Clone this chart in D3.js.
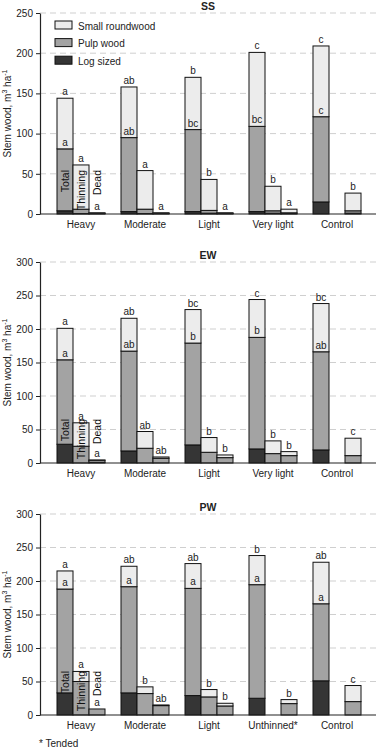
<!DOCTYPE html>
<html><head><meta charset="utf-8">
<script src="https://cdn.jsdelivr.net/npm/d3@7"></script>
<style>
body{margin:0;background:#fff;}
svg{display:block;font-family:"Liberation Sans",Arial,sans-serif;}
</style></head>
<body><svg id="c" width="380" height="750"></svg>
<script>
// ---------- data ----------
const barTypes = ["Total", "Thinning", "Dead"];
const seriesNames = ["Small roundwood", "Pulp wood", "Log sized"];
const catsSS = ["Heavy", "Moderate", "Light", "Very light", "Control"];
const catsEW = ["Heavy", "Moderate", "Light", "Very light", "Control"];
const catsPW = ["Heavy", "Moderate", "Light", "Unthinned*", "Control"];
const ticksSS = [0, 50, 100, 150, 200, 250];
const ticksEW = [0, 50, 100, 150, 200, 250, 300];
const ticksPW = [0, 50, 100, 150, 200, 250, 300];

// order: per category, Total, Thinning, Dead (null = no bar)
const ssLog   = [4, 0.5, 0.5,   3, 0.5, 0.5,   3, 1, 0.5,     3, 1, 0.5,     15, null, 1];
const ssPulp  = [77, 5.5, 0.5,  92, 5.5, 0.5,  102, 3.5, 0.5, 106, 3, 1,     106, null, 3];
const ssSmall = [63, 55, 0.5,   63, 48, 0.5,   65, 38.5, 0.5, 92, 30.5, 4.5, 88, null, 22];
const ssTop   = ["a","a","a", "ab","a","a", "b","b","a", "c","b","a", "c",null,"b"];
const ssPulpL = ["a", "ab", "bc", "bc", "c"];

const ewLog   = [28, 0, 1,      18, 0, 0,      27, 0, 0,      21, 0, 0,        19.5, null, 0];
const ewPulp  = [126, 25, 3,    149, 22, 7,    152, 16, 8,    166.5, 14, 11,   146.5, null, 11];
const ewSmall = [47, 35, 0.5,   49, 25, 2,     50, 22, 4,     56.5, 19, 6,     72, null, 26];
const ewTop   = ["a","a","a", "ab","ab","ab", "bc","b","b", "c","b","b", "bc",null,"c"];
const ewPulpL = ["a", "ab", "b", "b", "ab"];

const pwLog   = [33, 0, 0,      33, 0, 0,       29, 0, 0,      25, null, 0,     51, null, 0];
const pwPulp  = [155, 50, 9,    158.5, 32, 14,  160, 27, 13.5, 169.5, null, 17, 115, null, 20];
const pwSmall = [27, 15, 0,     30.5, 10, 1,    37, 11, 4,     43.5, null, 6,   62, null, 24];
const pwTop   = ["a","a","a", "ab","b","ab", "ab","b","b", "b",null,"b", "ab",null,"c"];
const pwPulpL = ["a", "a", "a", "a", "a"];

const panels = [
  {title:"SS", cats:catsSS, ticks:ticksSS, log:ssLog, pulp:ssPulp, small:ssSmall, top:ssTop, pl:ssPulpL, max:250, y0:214, y1:13, legend:true},
  {title:"EW", cats:catsEW, ticks:ticksEW, log:ewLog, pulp:ewPulp, small:ewSmall, top:ewTop, pl:ewPulpL, max:300, y0:463, y1:262},
  {title:"PW", cats:catsPW, ticks:ticksPW, log:pwLog, pulp:pwPulp, small:pwSmall, top:pwTop, pl:pwPulpL, max:300, y0:715, y1:514}
];

const colors = {small:"#ececec", pulp:"#a3a3a3", log:"#353535"};
const svg = d3.select("#c");
const axisX = 40, rightX = 376;

panels.forEach(p => {
  const g = svg.append("g");
  const y = d3.scaleLinear().domain([0, p.max]).range([p.y0, p.y1]);
  const x = d3.scaleBand().domain(p.cats).range([49, 369]);
  const xi = d3.scaleBand().domain(barTypes).range([0, x.bandwidth()]).paddingOuter(0.5);

  // grid
  g.selectAll("line.grid").data(p.ticks.filter(t => t > 0)).join("line")
    .attr("x1", axisX).attr("x2", rightX)
    .attr("y1", d => y(d)).attr("y2", d => y(d))
    .attr("stroke", "#cfcfcf").attr("stroke-width", 1).attr("stroke-dasharray", "6,4");

  // records
  const recs = [];
  p.cats.forEach((c, ci) => barTypes.forEach((b, bi) => {
    const k = ci * 3 + bi;
    if (p.log[k] === null) return;
    recs.push({cat:c, type:b, log:p.log[k], pulp:p.pulp[k], small:p.small[k], top:p.top[k], ci:ci});
  }));
  const stack = d3.stack().keys(["log", "pulp", "small"])(recs);
  stack.forEach(layer => {
    g.append("g").selectAll("rect").data(layer.filter(d => d[1] - d[0] > 0)).join("rect")
      .attr("x", d => x(d.data.cat) + xi(d.data.type))
      .attr("width", xi.bandwidth())
      .attr("y", d => y(d[1]))
      .attr("height", d => y(d[0]) - y(d[1]))
      .attr("fill", colors[layer.key])
      .attr("stroke", "#111").attr("stroke-width", 1);
  });

  // letters on top
  g.selectAll("text.top").data(recs.filter(r => r.top)).join("text")
    .attr("x", d => x(d.cat) + xi(d.type) + xi.bandwidth() / 2)
    .attr("y", d => y(d.log + d.pulp + d.small) - 3)
    .attr("text-anchor", "middle").attr("font-size", 10).attr("fill", "#222")
    .text(d => d.top);
  // letters at pulp top of Total bars
  g.selectAll("text.pl").data(recs.filter(r => r.type === "Total")).join("text")
    .attr("x", d => x(d.cat) + xi(d.type) + xi.bandwidth() / 2)
    .attr("y", d => y(d.log + d.pulp) - 3)
    .attr("text-anchor", "middle").attr("font-size", 10).attr("fill", "#222")
    .text(d => p.pl[d.ci]);

  // rotated bar-type labels in first group
  barTypes.forEach(b => {
    const cx = x(p.cats[0]) + xi(b) + xi.bandwidth() / 2 + 4;
    const ty = y(0) - 44;
    g.append("text").attr("transform", `translate(${cx},${ty}) rotate(-90)`)
      .attr("text-anchor", "end").attr("font-size", 10.5).attr("fill", "#111").text(b);
  });

  // axes
  const ya = d3.axisLeft(y).tickValues(p.ticks).tickSize(4).tickPadding(3).tickSizeOuter(0);
  const yg = g.append("g").attr("transform", `translate(${axisX},0)`).call(ya);
  yg.select(".domain").attr("stroke", "#222").attr("stroke-width", 1.2);
  yg.selectAll(".tick line").attr("stroke", "#222");
  yg.selectAll(".tick text").attr("font-size", 10).attr("fill", "#222").attr("font-family", "Liberation Sans, Arial, sans-serif");
  g.append("line").attr("x1", axisX).attr("x2", rightX).attr("y1", y(0)).attr("y2", y(0))
    .attr("stroke", "#222").attr("stroke-width", 1.2);

  // category labels (centered on middle bar)
  g.selectAll("text.cat").data(p.cats).join("text")
    .attr("x", d => x(d) + x.bandwidth() / 2)
    .attr("y", y(0) + 14)
    .attr("text-anchor", "middle").attr("font-size", 10).attr("fill", "#222")
    .text(d => d);

  // title
  g.append("text").attr("x", (axisX + rightX) / 2).attr("y", p.y1 - 3.5)
    .attr("text-anchor", "middle").attr("font-size", 10.5).attr("font-weight", "bold").attr("fill", "#222")
    .text(p.title);

  // y-axis title
  const yt = g.append("text")
    .attr("transform", `translate(11,${(p.y0 + p.y1) / 2}) rotate(-90)`)
    .attr("text-anchor", "middle").attr("font-size", 10).attr("fill", "#222");
  yt.append("tspan").text("Stem wood, m");
  yt.append("tspan").attr("dy", -4).attr("font-size", 7).text("3");
  yt.append("tspan").attr("dy", 4).text(" ha");
  yt.append("tspan").attr("dy", -4).attr("font-size", 7).text("-1");

  if (p.legend) {
    const keys = ["small", "pulp", "log"];
    const lg = g.append("g");
    keys.forEach((k, i) => {
      const ly = 21 + i * 17.6;
      lg.append("rect").attr("x", 55).attr("y", ly).attr("width", 17).attr("height", 8)
        .attr("fill", colors[k]).attr("stroke", "#111").attr("stroke-width", 1);
      lg.append("text").attr("x", 78).attr("y", ly + 8.5).attr("font-size", 10).attr("fill", "#222")
        .text(seriesNames[i]);
    });
  }
});

svg.append("text").attr("x", 39).attr("y", 747).attr("font-size", 10).attr("fill", "#222").text("* Tended");
</script></body></html>
